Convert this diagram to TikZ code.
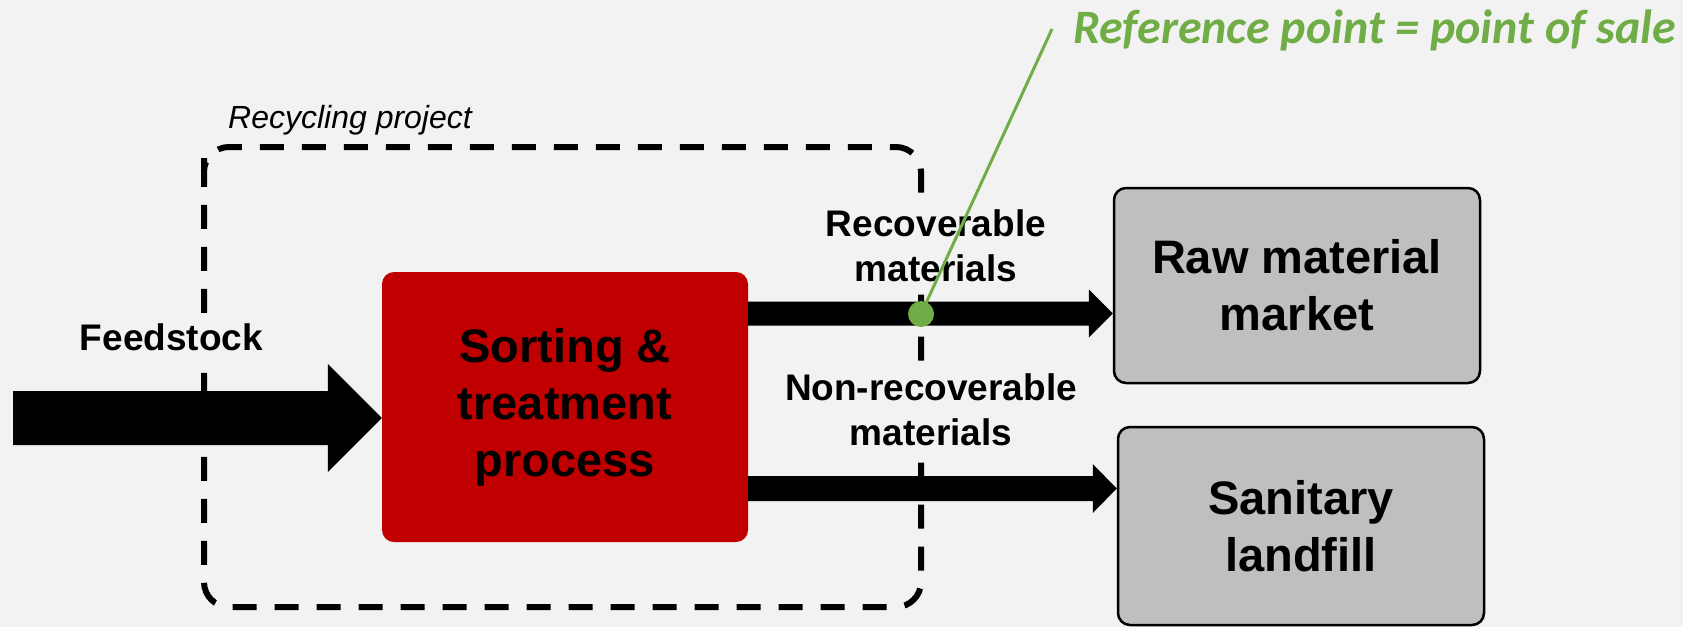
\documentclass[tikz,border=0pt]{standalone}
\usepackage{fontspec}
\setmainfont{Liberation Sans}
\newfontfamily\calib{Carlito}
\usetikzlibrary{calc}
\definecolor{bgc}{HTML}{F2F2F2}
\definecolor{redbox}{HTML}{C00000}
\definecolor{graybox}{HTML}{BFBFBF}
\definecolor{refgreen}{HTML}{70AD47}
% block arrow: start, tip, shaft half width, head half width, head length
\newcommand{\blockarrow}[5]{\fill[black] ($(#1)+(0,-#3)$) -- ($(#2)+(-#5,-#3)$) -- ($(#2)+(-#5,-#4)$) -- (#2) -- ($(#2)+(-#5,#4)$) -- ($(#2)+(-#5,#3)$) -- ($(#1)+(0,#3)$) -- cycle;}
\begin{document}
\begin{tikzpicture}[x=1pt,y=-1pt,
  bigbox/.style={rectangle, rounded corners=12pt, minimum width=366pt, inner sep=0pt,
    align=center, font=\fontsize{47}{57}\selectfont\bfseries},
  redstyle/.style={bigbox, fill=redbox},
  graystyle/.style={bigbox, fill=graybox, draw=black, line width=2.5pt},
  lbl/.style={fill=bgc, inner xsep=4pt, inner ysep=6pt, align=center, font=\fontsize{37}{45}\selectfont\bfseries},
  dashbox/.style={draw=black, line width=6pt, dash pattern=on 24pt off 18pt, rounded corners=25pt}
]
\useasboundingbox (0,0) rectangle (1683,627);
\fill[bgc] (0,0) rectangle (1683,627);

% recycling project boundary
\draw[dashbox] (204,183) -- (204,147) -- (921,147) -- (921,607) -- (204,607) -- cycle;
\node[anchor=base west, inner sep=0pt, font=\fontsize{32}{38}\selectfont\itshape] (projlbl) at (228,128) {Recycling project};

% boxes
\node[redstyle, minimum height=270pt] (sort) at (565,407) {Sorting \&\\treatment\\process};
\node[graystyle, minimum height=195pt] (raw) at (1297,285.5) {Raw material\\market};
\node[graystyle, minimum height=198pt] (land) at (1301,526) {Sanitary\\landfill};

% labels
\node[lbl] (feedlbl) at (171.5,337.5) {Feedstock};
\node[lbl] (reclbl) at (936,245.5) {Recoverable\\materials};
\node[lbl] (nonlbl) at (931,409.5) {Non-recoverable\\materials};

% arrows
\coordinate (feedA) at (13,418);
\coordinate (feedB) at (sort.west |- feedA);
\blockarrow{feedA}{feedB}{27}{54}{54}
\coordinate (recA) at (sort.east |- 0,313.5);
\coordinate (recB) at (raw.west |- recA);
\blockarrow{recA}{recB}{12}{24}{24}
\coordinate (nonA) at (sort.east |- 0,488.5);
\coordinate (nonB) at (land.west |- nonA);
\blockarrow{nonA}{nonB}{12.5}{24.5}{24}

% reference point
\node[anchor=base west, inner sep=0pt, text=refgreen,
  font=\calib\fontsize{48}{56}\selectfont\bfseries\itshape] (reflbl) at (1073,43) {Reference point = point of sale};
\coordinate (reftip) at (1052,29);
\node[circle, fill=refgreen, minimum size=26pt, inner sep=0pt] (dot) at (921,314) {};
\draw[refgreen, line width=3pt] (dot.center) -- (reftip);
\end{tikzpicture}
\end{document}
